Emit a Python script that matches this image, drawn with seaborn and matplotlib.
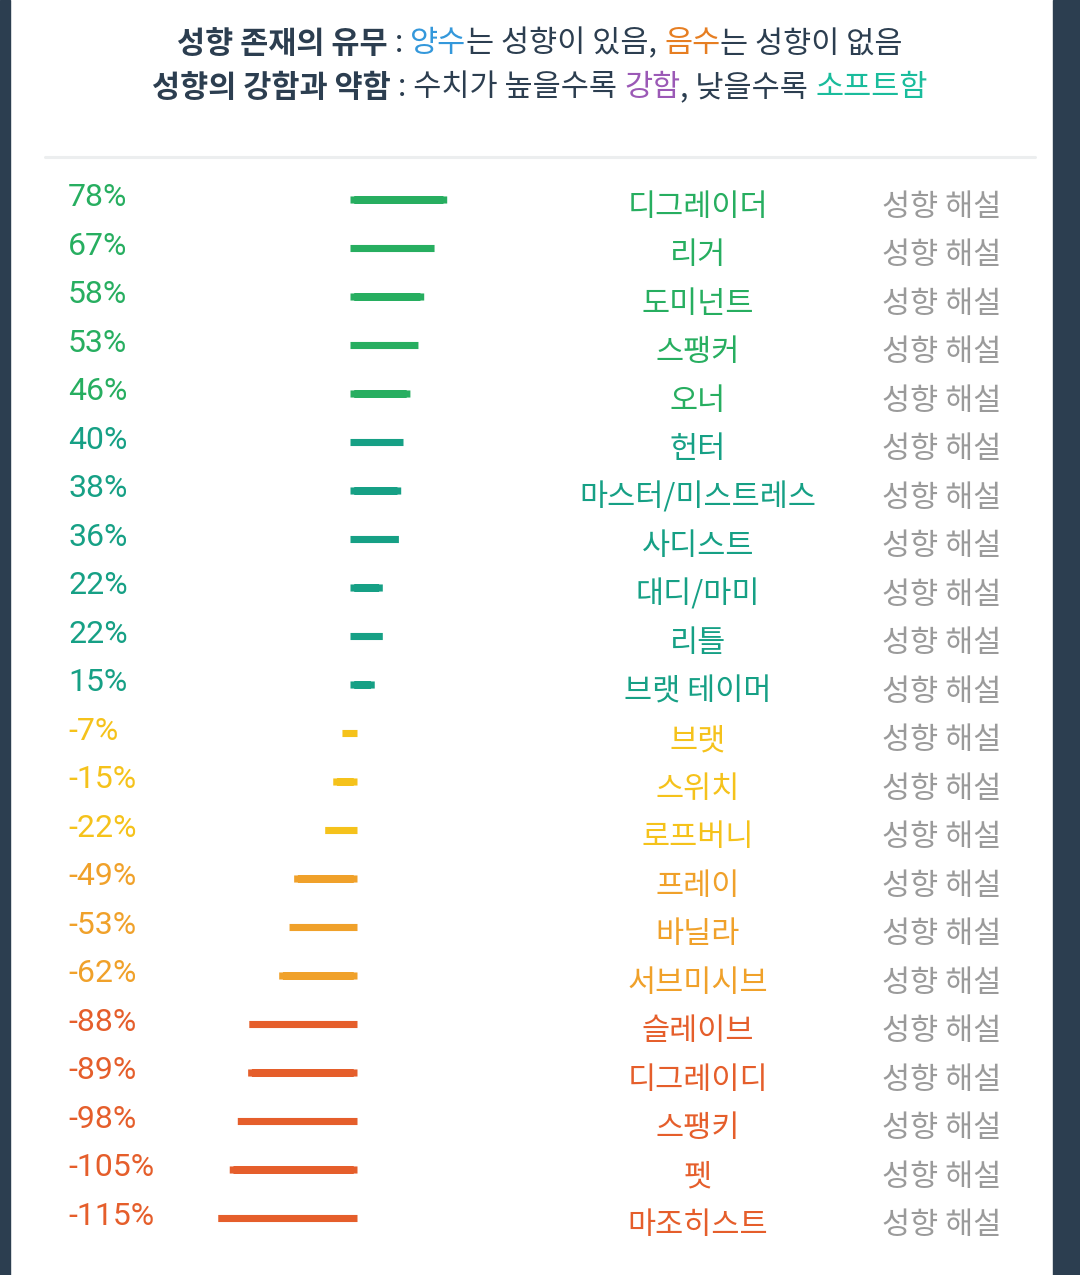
import matplotlib
matplotlib.use("Agg")
import matplotlib.pyplot as plt
import seaborn as sns
import pandas as pd
from matplotlib.transforms import blended_transform_factory
from matplotlib.patches import Rectangle
from matplotlib.lines import Line2D

# ---------------- data ----------------
names = ["디그레이더", "리거", "도미넌트", "스팽커", "오너", "헌터",
         "마스터/미스트레스", "사디스트", "대디/마미", "리틀", "브랫 테이머",
         "브랫", "스위치", "로프버니", "프레이", "바닐라", "서브미시브",
         "슬레이브", "디그레이디", "스팽키", "펫", "마조히스트"]
values = [78, 67, 58, 53, 46, 40, 38, 36, 22, 22, 15,
          -7, -15, -22, -49, -53, -62, -88, -89, -98, -105, -115]
groups = ["g"] * 5 + ["t"] * 6 + ["y"] * 3 + ["o"] * 3 + ["r"] * 5
link_label = "성향 해설"

# ---------------- style ----------------
group_colors = {"g": "#27ae60", "t": "#16a085", "y": "#f5c21b",
                "o": "#f0a12a", "r": "#e55e2b"}
KFONT = ["Noto Sans CJK KR", "DejaVu Sans"]
NFONT = ["Roboto", "DejaVu Sans"]
DARK = "#2c3e50"
W, H = 1080, 1275
px_per_pct = 1.15
zero_px = 354
row0_px, row_step = 200, 48.5
bar_px = 7  # stroke thickness of each bar

sns.set_theme(style="white")
plt.rcParams["font.family"] = KFONT

fig = plt.figure(figsize=(W / 100, H / 100), dpi=100)
fig.patch.set_facecolor("white")

n = len(names)
top_px = row0_px - 0.5 * row_step
bot_px = row0_px + (n - 0.5) * row_step
ax = fig.add_axes([0, 1 - bot_px / H, 1, (bot_px - top_px) / H])

df = pd.DataFrame({"name": names, "value": values, "group": groups})
palette = {nm: group_colors[g] for nm, g in zip(names, groups)}
sns.barplot(data=df, x="value", y="name", hue="name", palette=palette,
            legend=False, orient="h", width=0.002, ax=ax, saturation=1)
# bars look like thick strokes with square caps
for p in ax.patches:
    p.set_edgecolor(p.get_facecolor())
    p.set_linewidth(bar_px * 72 / 100)
    p.set_joinstyle("miter")
    p.set_snap(False)
ax.set_xlim(-zero_px / px_per_pct, (W - zero_px) / px_per_pct)
ax.set_ylim(n - 0.5, -0.5)
ax.axis("off")

tr = blended_transform_factory(fig.transFigure, ax.transData)
for i, (nm, v, g) in enumerate(zip(names, values, groups)):
    c = group_colors[g]
    ax.text(68 / W, i - 0.05, f"{v}%", transform=tr, ha="left", va="center",
            fontsize=23, color=c, family=NFONT)
    ax.text(698 / W, i + 0.15, nm, transform=tr, ha="center", va="center",
            fontsize=22, color=c, family=KFONT)
    ax.text(942 / W, i + 0.15, link_label, transform=tr, ha="center",
            va="center", fontsize=22, color="#9a9a9a", family=KFONT)

# ---------------- title (multi-coloured) ----------------
renderer = fig.canvas.get_renderer()


def piece_width(s, size, weight):
    a = fig.text(0, 0, "|" + s + "|", fontsize=size, fontweight=weight, family=KFONT)
    b = fig.text(0, 0, "||", fontsize=size, fontweight=weight, family=KFONT)
    w = a.get_window_extent(renderer).width - b.get_window_extent(renderer).width
    a.remove(); b.remove()
    return w


def draw_line(pieces, y_px, size):
    widths = [piece_width(s, size, wt) for s, c, wt in pieces]
    x = (W - sum(widths)) / 2
    for (s, c, wt), w in zip(pieces, widths):
        fig.text(x / W, 1 - y_px / H, s, fontsize=size, fontweight=wt,
                 color=c, family=KFONT, ha="left", va="center")
        x += w


line1 = [("성향 존재의 유무", DARK, "bold"), (" : ", DARK, "normal"),
         ("양수", "#3498db", "normal"), ("는 성향이 있음, ", DARK, "normal"),
         ("음수", "#e67e22", "normal"), ("는 성향이 없음", DARK, "normal")]
line2 = [("성향의 강함과 약함", DARK, "bold"), (" : 수치가 높을수록 ", DARK, "normal"),
         ("강함", "#9b59b6", "normal"), (", 낮을수록 ", DARK, "normal"),
         ("소프트함", "#1abc9c", "normal")]
draw_line(line1, 44, 22)
draw_line(line2, 88, 22)

# separator line and dark side frame
fig.add_artist(Line2D([45 / W, 1035 / W], [1 - 157 / H] * 2, color="#eceeef",
                      lw=2.2, transform=fig.transFigure))
fig.add_artist(Rectangle((0, 0), 10 / W, 1, color="#2c3e50",
                         transform=fig.transFigure))
fig.add_artist(Rectangle((1053 / W, 0), 27 / W, 1, color="#2c3e50",
                         transform=fig.transFigure))

fig.savefig("out.png", dpi=100, facecolor="white")
